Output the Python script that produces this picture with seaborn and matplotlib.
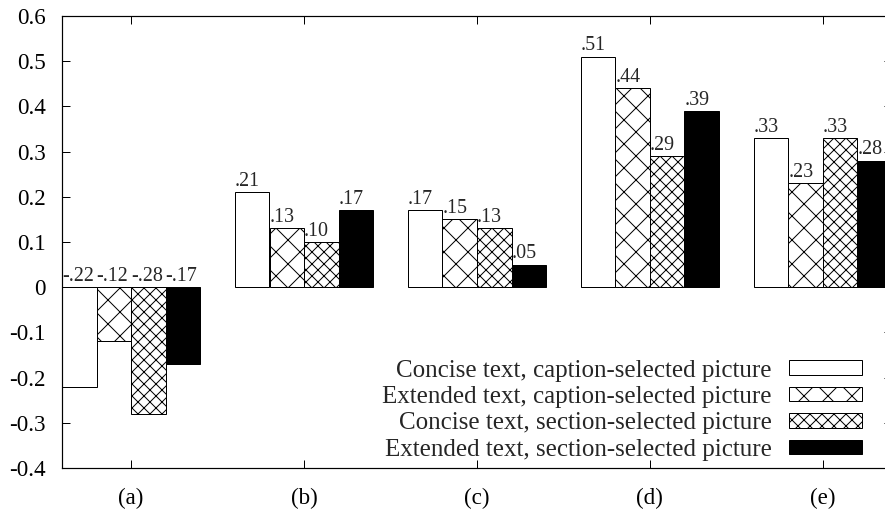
import numpy as np
import pandas as pd
import matplotlib
matplotlib.use("Agg")
import matplotlib.pyplot as plt
from matplotlib.patches import Patch
import seaborn as sns

# ---------------------------------------------------------
# DATA
# ---------------------------------------------------------
groups = ["(a)", "(b)", "(c)", "(d)", "(e)"]
series = [
    "Concise text, caption-selected picture",
    "Extended text, caption-selected picture",
    "Concise text, section-selected picture",
    "Extended text, section-selected picture",
]
concise_caption = [-0.22, 0.21, 0.17, 0.51, 0.33]
extended_caption = [-0.12, 0.13, 0.15, 0.44, 0.23]
concise_section = [-0.28, 0.10, 0.13, 0.29, 0.33]
extended_section = [-0.17, 0.17, 0.05, 0.39, 0.28]
yticks = [-0.4, -0.3, -0.2, -0.1, 0, 0.1, 0.2, 0.3, 0.4, 0.5, 0.6]

df = pd.DataFrame({
    "group": groups * 4,
    "series": np.repeat(series, len(groups)),
    "value": concise_caption + extended_caption + concise_section + extended_section,
})

fills = ["white", "white", "white", "black"]
hatches = ["", "x", "xx", ""]

# ---------------------------------------------------------
# STYLE
# ---------------------------------------------------------
sns.set_style("ticks")
plt.rcParams["font.family"] = ["Liberation Serif", "DejaVu Serif"]
plt.rcParams["hatch.linewidth"] = 1.0
plt.rcParams["hatch.color"] = "black"

DPI = 72
fig = plt.figure(figsize=(885 / DPI, 511 / DPI), dpi=DPI)
ax = fig.add_axes([62 / 885, 1 - 468 / 511, 830 / 885, (468 - 16) / 511])

sns.barplot(
    data=df, x="group", y="value", hue="series", hue_order=series,
    order=groups, palette=fills, saturation=1, edgecolor="black",
    linewidth=1, width=0.8, legend=False, ax=ax,
)

# hatches + value labels (left-aligned at bar edge, gnuplot style)
for cont, h in zip(ax.containers, hatches):
    for bar in cont:
        bar.set_hatch(h)
        val = bar.get_height()
        txt = f"{val:.2f}".replace("0.", ".")
        ax.text(bar.get_x(), max(val, 0) + 0.003, txt, ha="left", va="bottom",
                fontsize=20)

ax.set_xlim(-0.4, 4.4)
ax.set_ylim(-0.4, 0.6)
ax.set_yticks(yticks)
ax.set_yticklabels(["0" if t == 0 else f"{t:.1f}" for t in yticks])
ax.set_xlabel("")
ax.set_ylabel("")

ax.tick_params(axis="both", direction="in", length=8, width=1, labelsize=23,
               top=True, right=True, colors="black")
ax.tick_params(axis="y", pad=16)
ax.tick_params(axis="x", pad=20)
for sp in ax.spines.values():
    sp.set_linewidth(1.2)
    sp.set_color("black")
    sp.set_visible(True)

handles = [Patch(facecolor=f, edgecolor="black", hatch=h, linewidth=1)
           for f, h in zip(fills, hatches)]
fig.legend(handles, series, loc="lower right", bbox_to_anchor=(862 / 885, 1 - 461 / 511),
           frameon=False, markerfirst=False, fontsize=25, handlelength=2.92,
           handleheight=0.52, handletextpad=0.68, labelspacing=0.18,
           borderpad=0, borderaxespad=0)

fig.savefig("out.png", dpi=DPI)
